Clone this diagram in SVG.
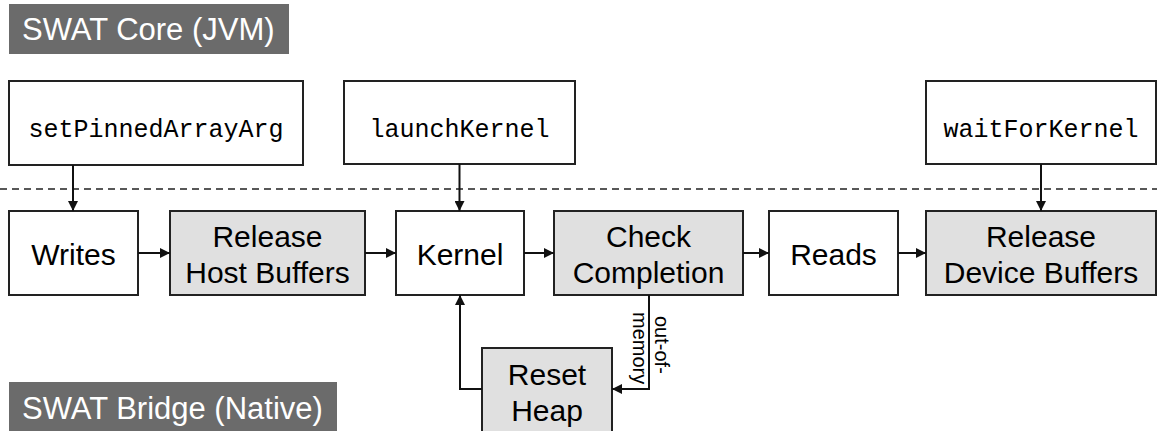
<svg xmlns="http://www.w3.org/2000/svg" width="1157" height="431" viewBox="0 0 1157 431">
<defs>
<style>
.box{stroke:#222;stroke-width:2;fill:#fff}
.grey{fill:#e0e0e0}
.title{fill:#6b6b6b}
.tt{font-family:"Liberation Sans",Arial,sans-serif;font-size:31px;fill:#fff}
.lbl{font-family:"Liberation Sans",Arial,sans-serif;font-size:30px;fill:#000;text-anchor:middle}
.mono{font-family:"Liberation Mono","DejaVu Sans Mono",monospace;font-size:25px;fill:#000;text-anchor:middle}
.small{font-family:"Liberation Sans",Arial,sans-serif;font-size:20px;fill:#000}
.edge{stroke:#111;stroke-width:2;fill:none}
</style>
<marker id="arr" viewBox="0 0 10 10" refX="10" refY="5" markerWidth="10" markerHeight="10" markerUnits="userSpaceOnUse" orient="auto">
<path d="M0,0 L10,5 L0,10 z" fill="#111"/>
</marker>
</defs>
<rect width="1157" height="431" fill="#fff"/>

<g id="title-core">
<rect class="title" x="9" y="4" width="280" height="50"/>
<text class="tt" x="22" y="40">SWAT Core (JVM)</text>
</g>
<g id="title-bridge">
<rect class="title" x="9" y="382" width="328" height="55"/>
<text class="tt" x="22" y="419">SWAT Bridge (Native)</text>
</g>

<line x1="0" y1="189" x2="1157" y2="189" stroke="#222" stroke-width="1.5" stroke-dasharray="7,5"/>

<g id="setPinnedArrayArg">
<rect class="box" x="9" y="81" width="294" height="84"/>
<text class="mono" x="156" y="137">setPinnedArrayArg</text>
</g>
<g id="launchKernel">
<rect class="box" x="344" y="81" width="231" height="83"/>
<text class="mono" x="459.5" y="137">launchKernel</text>
</g>
<g id="waitForKernel">
<rect class="box" x="926" y="81" width="230" height="83"/>
<text class="mono" x="1041" y="137">waitForKernel</text>
</g>

<g id="writes">
<rect class="box" x="9" y="211" width="129" height="84"/>
<text class="lbl" x="73.5" y="265">Writes</text>
</g>
<g id="release-host">
<rect class="box grey" x="170" y="211" width="195" height="84"/>
<text class="lbl" x="267.5" y="247">Release</text>
<text class="lbl" x="267.5" y="283">Host Buffers</text>
</g>
<g id="kernel">
<rect class="box" x="396" y="211" width="128" height="84"/>
<text class="lbl" x="460" y="265">Kernel</text>
</g>
<g id="check-completion">
<rect class="box grey" x="554" y="211" width="189" height="84"/>
<text class="lbl" x="648.5" y="247">Check</text>
<text class="lbl" x="648.5" y="283">Completion</text>
</g>
<g id="reads">
<rect class="box" x="769" y="211" width="129" height="84"/>
<text class="lbl" x="833.5" y="265">Reads</text>
</g>
<g id="release-device">
<rect class="box grey" x="926" y="211" width="230" height="84"/>
<text class="lbl" x="1041" y="247">Release</text>
<text class="lbl" x="1041" y="283">Device Buffers</text>
</g>
<g id="reset-heap">
<rect class="box grey" x="482" y="348" width="130" height="95"/>
<text class="lbl" x="547" y="385">Reset</text>
<text class="lbl" x="547" y="421">Heap</text>
</g>

<g id="connectors">
<line class="edge" x1="73" y1="165" x2="73" y2="211" marker-end="url(#arr)"/>
<line class="edge" x1="459.5" y1="164" x2="459.5" y2="211" marker-end="url(#arr)"/>
<line class="edge" x1="1041" y1="164" x2="1041" y2="211" marker-end="url(#arr)"/>
<line class="edge" x1="138" y1="253" x2="170" y2="253" marker-end="url(#arr)"/>
<line class="edge" x1="365" y1="253" x2="396" y2="253" marker-end="url(#arr)"/>
<line class="edge" x1="524" y1="253" x2="554" y2="253" marker-end="url(#arr)"/>
<line class="edge" x1="743" y1="253" x2="769" y2="253" marker-end="url(#arr)"/>
<line class="edge" x1="898" y1="253" x2="926" y2="253" marker-end="url(#arr)"/>
<polyline class="edge" points="649,295 649,389 612,389" marker-end="url(#arr)"/>
<polyline class="edge" points="482,389 460,389 460,295" marker-end="url(#arr)"/>
<text class="small" transform="translate(655,316) rotate(90)">out-of-</text>
<text class="small" transform="translate(633,312) rotate(90)">memory</text>
</g>
</svg>
